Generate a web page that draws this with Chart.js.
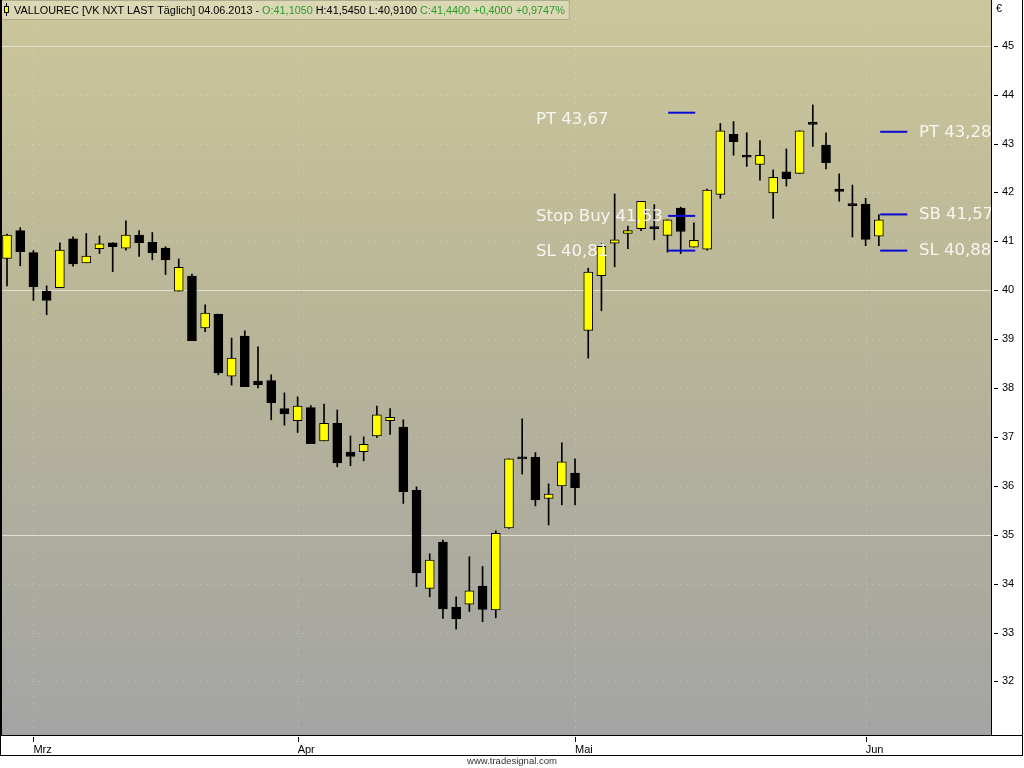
<!DOCTYPE html>
<html><head><meta charset="utf-8">
<script src="https://cdn.jsdelivr.net/npm/chart.js@4.4.1/dist/chart.umd.min.js"></script>
<style>html,body{margin:0;padding:0;background:#fff;overflow:hidden}#wrap{width:1024px;height:768px;position:relative}</style>
</head><body><div id="wrap"><canvas id="c" width="1024" height="768"></canvas></div>
<script>
// ---- data (daily candles, 27.02.2013 - 04.06.2013) ----
const opens  = [40.65,41.22,40.77,39.98,40.05,41.05,40.56,40.85,40.97,40.86,41.13,40.98,40.86,39.98,40.29,39.23,39.51,38.24,39.06,38.14,38.15,37.58,37.33,37.60,36.92,37.28,36.69,36.70,37.02,37.33,37.20,35.91,33.90,34.85,33.52,33.58,33.95,33.46,35.14,36.58,36.58,35.74,36.00,36.26,39.18,40.30,40.96,41.16,41.26,41.29,41.12,41.68,40.88,40.84,41.96,43.19,42.76,42.57,41.99,42.42,42.39,43.42,42.97,42.07,41.76,41.76,41.105];
const highs  = [41.15,41.28,40.81,40.09,40.97,41.09,41.16,41.11,40.97,41.42,41.22,41.18,40.89,40.64,40.33,39.70,39.51,39.02,39.17,38.84,38.27,37.90,37.82,37.64,37.67,37.55,37.02,37.00,37.63,37.58,37.35,35.98,34.61,34.89,33.73,34.55,34.35,35.08,36.55,37.37,36.68,36.04,36.88,36.55,40.45,40.95,41.97,41.31,41.82,41.75,41.44,41.70,41.38,42.07,43.41,43.45,43.22,43.06,42.46,42.89,43.26,43.79,43.22,42.38,42.15,41.88,41.545];
const lows   = [40.09,40.50,39.79,39.50,40.05,40.49,40.56,40.75,40.38,40.82,40.69,40.62,40.32,39.98,38.97,39.15,38.27,38.06,38.03,38.00,37.35,37.24,37.09,36.86,36.92,36.39,36.41,36.51,36.99,37.05,35.64,33.94,33.73,33.29,33.07,33.43,33.22,33.30,35.13,36.24,35.59,35.20,35.61,35.61,38.61,39.58,40.48,40.85,41.22,41.03,40.78,40.75,40.88,40.82,41.88,42.76,42.53,42.25,41.47,42.13,42.39,42.94,42.48,41.82,41.09,40.91,40.91];
const closes = [41.13,40.79,40.07,39.79,40.82,40.54,40.70,40.95,40.89,41.13,40.97,40.77,40.62,40.47,38.97,39.53,38.31,38.61,38.03,38.07,37.70,37.47,37.63,36.86,37.28,36.47,36.60,36.85,37.45,37.40,35.88,34.22,34.48,33.48,33.28,33.85,33.47,35.03,36.55,36.55,35.71,35.83,36.49,35.96,40.37,40.90,41.03,41.22,41.82,41.26,41.44,41.20,41.02,42.05,43.26,43.04,42.72,42.76,42.31,42.28,43.26,43.39,42.61,42.02,41.73,41.04,41.44];
const lastDate = '04.06.2013';
const monthTickIndex = [2, 22, 43, 65];
const monthLabels = ['Mrz', 'Apr', 'Mai', 'Jun'];
const yTickValues = [32,33,34,35,36,37,38,39,40,41,42,43,44,45];
// trade levels drawn as short blue lines, with their label texts
const leftLevels  = [43.63, 41.52, 40.81];
const leftTexts   = ['PT 43,67', 'Stop Buy 41,53', 'SL 40,81'];
const rightLevels = [43.24, 41.55, 40.81];
const rightTexts  = ['PT 43,28', 'SB 41,57', 'SL 40,88'];

// ---- build datasets ----
const n = opens.length;
const wickData = opens.map((o, i) => ({x: i, y: [lows[i], highs[i]]}));
const bodyData = opens.map((o, i) => ({x: i, y: [o, closes[i]]}));
const bodyColors = opens.map((o, i) => closes[i] >= o ? '#ffff00' : '#000000');
const LSPAN = [50.05, 52.1], RSPAN = [66.1, 68.15];
const lineSets = [];
leftLevels.forEach(v => lineSets.push({type: 'line', data: [{x: LSPAN[0], y: v}, {x: LSPAN[1], y: v}], borderColor: '#0a0ad2', borderWidth: 2, pointRadius: 0, order: 0}));
rightLevels.forEach(v => lineSets.push({type: 'line', data: [{x: RSPAN[0], y: v}, {x: RSPAN[1], y: v}], borderColor: '#0a0ad2', borderWidth: 2, pointRadius: 0, order: 0}));

const fmt = (v, d) => v.toFixed(d).replace('.', ',');
const sgn = v => (v >= 0 ? '+' : '-') + fmt(Math.abs(v), 4);
const noPad = s => { s.paddingTop = 0; s.paddingBottom = 0; s.paddingLeft = 0; s.paddingRight = 0; };

const decor = {
  id: 'decor',
  beforeDraw(chart) {
    const {ctx, chartArea: a} = chart;
    const ys = chart.scales.y, xs = chart.scales.x;
    ctx.save();
    ctx.fillStyle = '#fff';
    ctx.fillRect(0, 0, chart.width, chart.height);
    const g = ctx.createLinearGradient(0, a.top, 0, a.bottom);
    g.addColorStop(0, '#cbc69a');
    g.addColorStop(0.45, '#b8b598');
    g.addColorStop(1, '#a4a4a4');
    ctx.fillStyle = g;
    ctx.fillRect(a.left, a.top, a.right - a.left, a.bottom - a.top);
    // grid
    ctx.lineWidth = 1;
    yTickValues.forEach(v => {
      const py = Math.round(ys.getPixelForValue(v)) + 0.5;
      ctx.beginPath();
      if (v % 5 === 0) { ctx.setLineDash([]); ctx.strokeStyle = 'rgba(232,232,222,0.85)'; }
      else { ctx.setLineDash([2, 4]); ctx.strokeStyle = 'rgba(255,255,255,0.16)'; }
      ctx.moveTo(a.left, py); ctx.lineTo(a.right, py); ctx.stroke();
    });
    ctx.setLineDash([2, 4]);
    ctx.strokeStyle = 'rgba(255,255,255,0.16)';
    monthTickIndex.forEach(v => {
      const px = Math.round(xs.getPixelForValue(v)) + 0.5;
      ctx.beginPath(); ctx.moveTo(px, a.top); ctx.lineTo(px, a.bottom); ctx.stroke();
    });
    ctx.restore();
  },
  afterDraw(chart) {
    const {ctx, chartArea: a} = chart;
    const ys = chart.scales.y, xs = chart.scales.x;
    ctx.save();
    // annotation labels
    ctx.save();
    ctx.beginPath(); ctx.rect(a.left, a.top, a.right - a.left, a.bottom - a.top); ctx.clip();
    ctx.font = '16.5px "DejaVu Sans"';
    ctx.fillStyle = '#f6f6f2';
    ctx.textBaseline = 'middle';
    ctx.textAlign = 'left';
    const lx = xs.getPixelForValue(40.05), rx = xs.getPixelForValue(69.04);
    leftTexts.forEach((t, i) => {
      const off = i === 0 ? 7 : 1;
      ctx.fillText(t, lx, ys.getPixelForValue(leftLevels[i]) + off);
    });
    rightTexts.forEach((t, i) => {
      ctx.fillText(t, rx, ys.getPixelForValue(rightLevels[i]) + 0.5);
    });
    ctx.restore();

    // header
    const L = n - 1;
    const chg = closes[L] - closes[L - 1];
    const pct = chg / closes[L - 1] * 100;
    const segs = [
      ['VALLOUREC [VK NXT LAST Täglich] ' + lastDate + ' - ', '#000'],
      ['O:' + fmt(opens[L], 4) + ' ', '#2a9d2a'],
      ['H:' + fmt(highs[L], 4) + ' L:' + fmt(lows[L], 4) + ' ', '#000'],
      ['C:' + fmt(closes[L], 4) + ' ' + sgn(chg) + ' ' + sgn(pct) + '%', '#2a9d2a']
    ];
    ctx.font = '10.85px "Liberation Sans"';
    let tw = 0; segs.forEach(s => tw += ctx.measureText(s[0]).width);
    ctx.fillStyle = 'rgba(240,238,215,0.45)';
    ctx.fillRect(0, 0, 14 + tw + 5, 20);
    ctx.strokeStyle = 'rgba(120,118,90,0.45)';
    ctx.strokeRect(0.5, 0.5, 14 + tw + 4, 19);
    // icon
    ctx.fillStyle = '#000';
    ctx.fillRect(6, 3, 1, 13);
    ctx.fillRect(4, 6, 5, 7);
    ctx.fillStyle = '#ffff00';
    ctx.fillRect(5, 7, 3, 5);
    let hx = 14;
    ctx.textBaseline = 'alphabetic';
    segs.forEach(s => { ctx.fillStyle = s[1]; ctx.fillText(s[0], hx, 14); hx += ctx.measureText(s[0]).width; });

    // frames
    ctx.fillStyle = '#000';
    ctx.fillRect(0, 0, 2, a.bottom);
    ctx.fillRect(a.right, 0, 1, a.bottom);
    ctx.fillRect(0, a.bottom, 1023, 1);
    ctx.fillRect(1022, 0, 1, 756);
    ctx.fillRect(0, 755, 1023, 1);
    ctx.fillRect(0, a.bottom, 1, 21);
    // tick marks
    yTickValues.forEach(v => ctx.fillRect(a.right + 3, Math.round(ys.getPixelForValue(v)), 4, 1));
    monthTickIndex.forEach(v => ctx.fillRect(Math.round(xs.getPixelForValue(v)), a.bottom + 2, 1, 5));
    // currency
    ctx.font = '11px "Liberation Sans"';
    ctx.textAlign = 'left';
    ctx.textBaseline = 'top';
    ctx.fillText('€', a.right + 5, 3);
    // watermark
    ctx.font = '9.5px "Liberation Sans"';
    ctx.fillStyle = '#333';
    ctx.textAlign = 'center';
    ctx.textBaseline = 'middle';
    ctx.fillText('www.tradesignal.com', 512, 761);
    ctx.restore();
  }
};

new Chart(document.getElementById('c'), {
  data: {
    datasets: [
      {type: 'bar', data: wickData, backgroundColor: '#000', borderWidth: 0, barThickness: 1, grouped: false, order: 2},
      {type: 'bar', data: bodyData, backgroundColor: bodyColors, borderColor: '#000', borderWidth: 1, borderSkipped: false, barThickness: 9, minBarLength: 2, grouped: false, order: 1},
      ...lineSets
    ]
  },
  options: {
    responsive: false,
    animation: false,
    devicePixelRatio: 1,
    layout: {padding: {left: 2, top: 0, right: 2, bottom: 13}},
    plugins: {legend: {display: false}, tooltip: {enabled: false}},
    scales: {
      x: {
        type: 'linear', min: -0.38, max: 74.49, offset: false,
        grid: {display: false, tickLength: 6, offset: false}, border: {display: false},
        afterBuildTicks: s => { s.ticks = monthTickIndex.map(v => ({value: v})); },
        afterFit: s => { s.height = 20; noPad(s); },
        ticks: {autoSkip: false, maxRotation: 0, align: 'start', padding: 2, color: '#000',
          font: {family: 'Liberation Sans', size: 11},
          callback: v => monthLabels[monthTickIndex.indexOf(v)]}
      },
      y: {
        type: 'linear', position: 'right', min: 30.904, max: 45.935,
        grid: {display: false, tickLength: 7}, border: {display: false},
        afterBuildTicks: s => { s.ticks = yTickValues.map(v => ({value: v})); },
        afterFit: s => { s.width = 31; noPad(s); },
        ticks: {padding: 4, color: '#000', font: {family: 'Liberation Sans', size: 11}, callback: v => String(v)}
      }
    }
  },
  plugins: [decor]
});
</script>
</body></html>
